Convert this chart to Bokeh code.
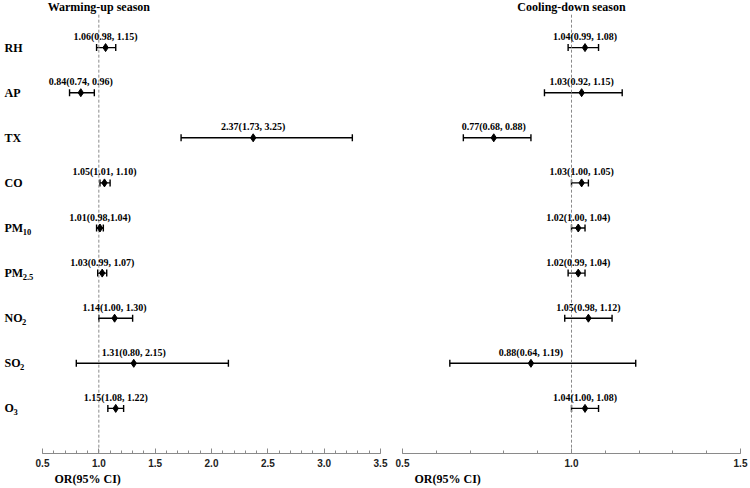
from bokeh.plotting import figure
from bokeh.layouts import row
from bokeh.models import (Range1d, SingleIntervalTicker, Whisker, TeeHead,
                          ColumnDataSource, Title, PrintfTickFormatter)
from bokeh.core.properties import value
from bokeh.embed import file_html
from bokeh.resources import INLINE

# ---- data ----
variables = ["RH", "AP", "TX", "CO", "PM", "PM", "NO", "SO", "O"]
subscripts = ["", "", "", "", "10", "2.5", "2", "2", "3"]

warm_or = [1.06, 0.84, 2.37, 1.05, 1.01, 1.03, 1.14, 1.31, 1.15]
warm_lo = [0.98, 0.74, 1.73, 1.01, 0.98, 0.99, 1.00, 0.80, 1.08]
warm_hi = [1.15, 0.96, 3.25, 1.10, 1.04, 1.07, 1.30, 2.15, 1.22]
warm_txt = ["1.06(0.98, 1.15)", "0.84(0.74, 0.96)", "2.37(1.73, 3.25)",
            "1.05(1.01, 1.10)", "1.01(0.98,1.04)", "1.03(0.99, 1.07)",
            "1.14(1.00, 1.30)", "1.31(0.80, 2.15)", "1.15(1.08, 1.22)"]

cool_or = [1.04, 1.03, 0.77, 1.03, 1.02, 1.02, 1.05, 0.88, 1.04]
cool_lo = [0.99, 0.92, 0.68, 1.00, 1.00, 0.99, 0.98, 0.64, 1.00]
cool_hi = [1.08, 1.15, 0.88, 1.05, 1.04, 1.04, 1.12, 1.19, 1.08]
cool_txt = ["1.04(0.99, 1.08)", "1.03(0.92, 1.15)", "0.77(0.68, 0.88)",
            "1.03(1.00, 1.05)", "1.02(1.00, 1.04)", "1.02(0.99, 1.04)",
            "1.05(0.98, 1.12)", "0.88(0.64, 1.19)", "1.04(1.00, 1.08)"]

titles = ["Warming-up season", "Cooling-down season"]
x_label = "OR(95% CI)"
x_bounds = [(0.5, 3.5), (0.5, 1.5)]

positions = list(range(1, len(variables) + 1))

SERIF = "Liberation Serif"
SANS = "Liberation Sans"
H = 488
TOP = 2
BOTTOM = 35


def make_panel(bounds, ors, los, his, txts, title, lead_px, axis_px, border_right):
    unit = axis_px / (bounds[1] - bounds[0])
    x_start = bounds[0] - lead_px / unit
    p = figure(width=lead_px + axis_px + border_right, height=H,
               x_range=Range1d(x_start, bounds[1]), y_range=Range1d(10, 0),
               min_border_left=0, min_border_right=border_right,
               min_border_top=TOP, min_border_bottom=BOTTOM,
               y_axis_location=None, output_backend="svg",
               toolbar_location=None)
    p.grid.visible = False
    p.outline_line_color = None
    p.background_fill_color = "white"

    ax = p.xaxis[0]
    ax.bounds = bounds
    ax.ticker = SingleIntervalTicker(interval=0.5, num_minor_ticks=5)
    ax.formatter = PrintfTickFormatter(format="%.1f")
    ax.axis_line_color = "#8a8a8a"
    ax.major_tick_line_color = "#8a8a8a"
    ax.minor_tick_line_color = "#8a8a8a"
    ax.major_tick_in = 5
    ax.major_tick_out = 0
    ax.minor_tick_in = 3
    ax.minor_tick_out = 0
    ax.major_label_text_font = SANS
    ax.major_label_text_font_style = "bold"
    ax.major_label_text_font_size = "10px"
    ax.major_label_text_color = "#222222"
    ax.major_label_standoff = 5

    # reference line at OR = 1
    p.segment(x0=[1.0], y0=[0.27], x1=[1.0], y1=[10], line_color="#8a8a8a",
              line_width=1, line_dash="3 2")

    src = ColumnDataSource(dict(y=positions, o=ors, lo=los, hi=his, txt=txts,
                                ty=[v - 0.12 for v in positions]))
    wh = Whisker(base="y", lower="lo", upper="hi", dimension="width", source=src,
                 line_color="black", line_width=1.4,
                 lower_head=TeeHead(size=7, line_color="black", line_width=1.4),
                 upper_head=TeeHead(size=7, line_color="black", line_width=1.4))
    p.add_layout(wh)
    p.scatter(x="o", y="y", source=src, marker="diamond", size=8,
              fill_color="black", line_color="black")
    p.text(x="o", y="ty", text="txt", source=src, text_align="center",
           text_baseline="bottom", text_font=value(SERIF),
           text_font_style="bold", text_font_size="10px", text_color="black")

    # panel title
    p.text(x=[1.0], y=[0.11], text=[title], text_align="center",
           text_baseline="middle", text_font=value(SERIF),
           text_font_style="bold", text_font_size="12px", text_color="black")

    # axis title, left aligned near the axis start
    p.add_layout(Title(text=x_label, align="left", offset=lead_px + 12,
                       text_font=SERIF, text_font_style="bold",
                       text_font_size="12px", text_color="black",
                       standoff=0), "below")
    return p, unit, x_start


left, lunit, lstart = make_panel(x_bounds[0], warm_or, warm_lo, warm_hi,
                                 warm_txt, titles[0], 42, 338, 10)
right, _, _ = make_panel(x_bounds[1], cool_or, cool_lo, cool_hi, cool_txt,
                         titles[1], 12, 338, 10)

# y category labels (with subscripts) inside the left panel's lead area
x0 = lstart + 4 / lunit
main_w = {"RH": 0, "AP": 0, "TX": 0, "CO": 0,
          "PM": 18.2, "NO": 17.6, "SO": 15.6, "O": 9.0}
lab_x = [x0] * len(variables)
sub_x = [x0 + main_w[n] / lunit for n in variables]
left.text(x=lab_x, y=positions, text=variables, text_align="left",
          text_baseline="middle", text_font=value(SERIF),
          text_font_style="bold", text_font_size="12px", text_color="black")
left.text(x=sub_x, y=[v + 0.08 for v in positions], text=subscripts,
          text_align="left", text_baseline="middle", text_font=value(SERIF),
          text_font_style="bold", text_font_size="8.5px", text_color="black")

layout = row(left, right)
open("out.html", "w").write(file_html(layout, INLINE))
